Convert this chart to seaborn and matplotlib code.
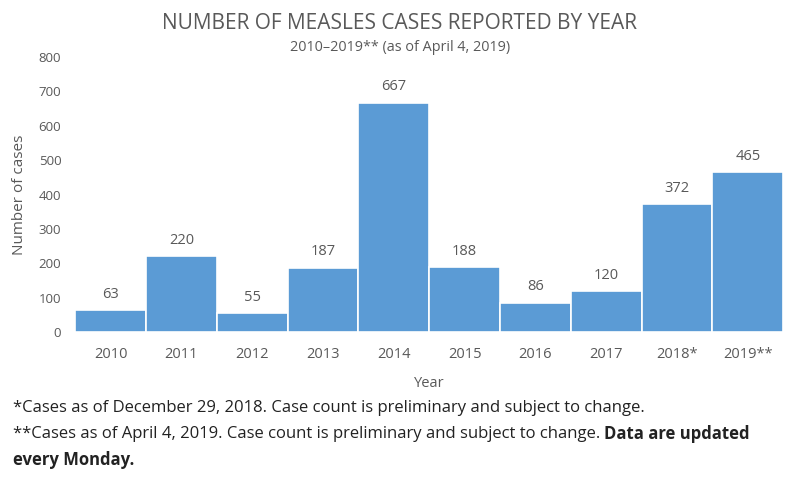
import matplotlib
matplotlib.use("Agg")
import matplotlib.pyplot as plt
import seaborn as sns
import pandas as pd

years = ['2010', '2011', '2012', '2013', '2014', '2015', '2016', '2017', '2018*', '2019**']
cases = [63, 220, 55, 187, 667, 188, 86, 120, 372, 465]
y_ticks = [0, 100, 200, 300, 400, 500, 600, 700, 800]

sns.set_style('white')
plt.rcParams['font.family'] = ['Open Sans', 'DejaVu Sans']

grey = '#595959'
bar_color = '#5B9BD5'

df = pd.DataFrame({'year': years, 'cases': cases})

fig = plt.figure(figsize=(8, 4.95), dpi=100)
ax = fig.add_axes([0.094, 0.329, 0.885, 0.556])

sns.barplot(data=df, x='year', y='cases', color=bar_color, width=1.0,
            edgecolor='white', linewidth=1.2, saturation=1, ax=ax)

for i, v in enumerate(cases):
    ax.annotate(str(v), (i, v), xytext=(0, 6), textcoords='offset points',
                ha='center', va='bottom', fontsize=10.5, color=grey)

ax.set_ylim(0, 800)
ax.set_xlim(-0.5, len(years) - 0.5)
ax.set_yticks(y_ticks)
ax.set_yticklabels([str(t) for t in y_ticks], fontsize=9.5, color=grey)
ax.tick_params(axis='y', length=0, pad=10)
ax.tick_params(axis='x', length=0, pad=11, labelsize=10.5, labelcolor=grey)
sns.despine(ax=ax, left=True, bottom=True)

ax.set_xlabel('Year', fontsize=10.5, color=grey, labelpad=10)
ax.set_ylabel('Number of cases', fontsize=11, color=grey)
ax.yaxis.set_label_coords(-0.068, 0.5)

fig.text(0.5, 0.953, 'NUMBER OF MEASLES CASES REPORTED BY YEAR',
         ha='center', va='center', fontsize=15, color=grey)
fig.text(0.5, 0.905, '2010\u20132019** (as of April 4, 2019)',
         ha='center', va='center', fontsize=10.4, color=grey)

note_color = '#222222'
fig.text(0.016, 1 - 408 / 495, '*Cases as of December 29, 2018. Case count is preliminary and subject to change.',
         ha='left', va='center', fontsize=12, color=note_color)
t2 = fig.text(0.016, 1 - 434 / 495,
              '**Cases as of April 4, 2019. Case count is preliminary and subject to change. ',
              ha='left', va='center', fontsize=12, color=note_color)
fig.canvas.draw()
bb = t2.get_window_extent(renderer=fig.canvas.get_renderer())
fig.text(bb.x1 / fig.bbox.width, 1 - 434 / 495, 'Data are updated',
         ha='left', va='center', fontsize=12, fontweight='bold', color=note_color)
fig.text(0.016, 1 - 460 / 495, 'every Monday.',
         ha='left', va='center', fontsize=12, fontweight='bold', color=note_color)

fig.savefig('out.png', dpi=100)
